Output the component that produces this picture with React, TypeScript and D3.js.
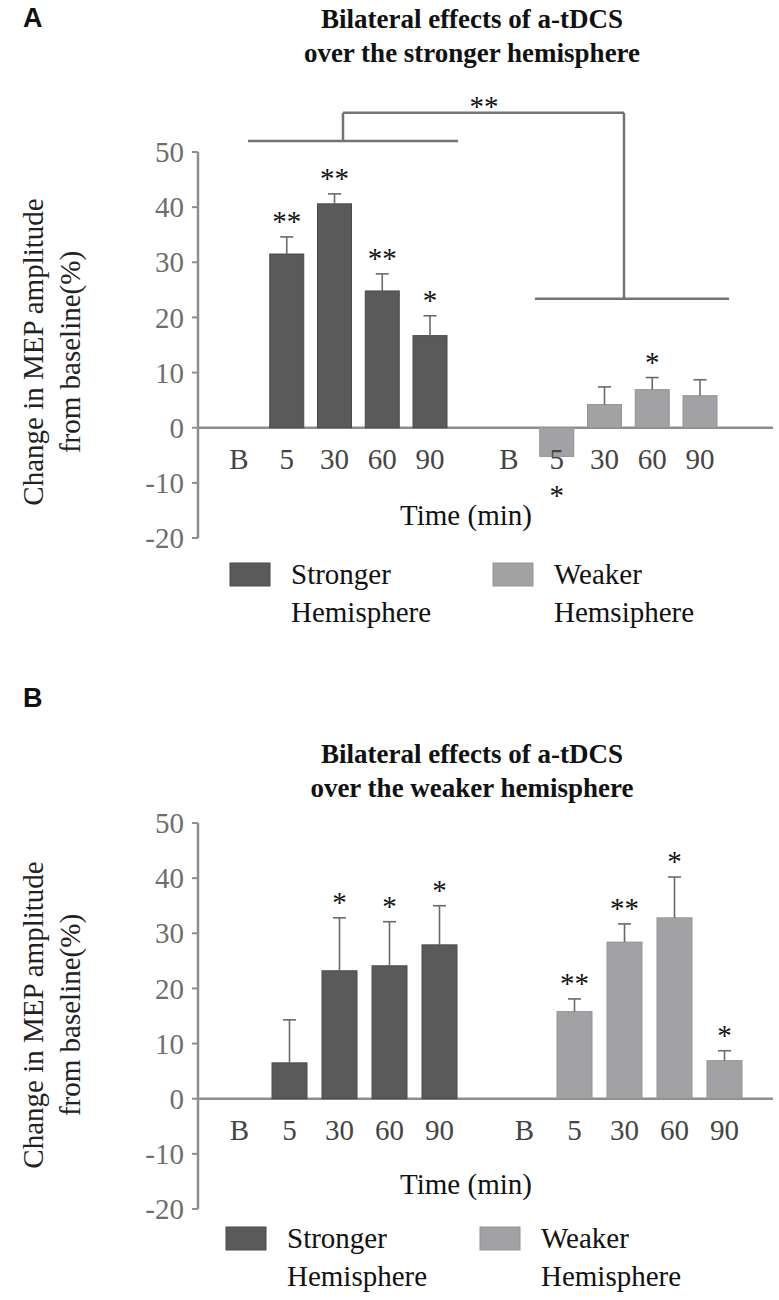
import React from "react";
import * as d3 from "d3";

const categories = ["B", "5", "30", "60", "90"];
const yTicks = [-20, -10, 0, 10, 20, 30, 40, 50];

const aStrongMean = [0, 31.5, 40.6, 24.8, 16.7];
const aStrongErr = [0, 3.1, 1.8, 3.1, 3.6];
const aStrongSig = ["", "**", "**", "**", "*"];
const aWeakMean = [0, -5.2, 4.2, 6.9, 5.8];
const aWeakErr = [0, 0, 3.2, 2.2, 2.9];
const aWeakSig = ["", "*", "", "*", ""];

const bStrongMean = [0, 6.5, 23.2, 24.1, 27.9];
const bStrongErr = [0, 7.8, 9.6, 8.0, 7.1];
const bStrongSig = ["", "", "*", "*", "*"];
const bWeakMean = [0, 15.8, 28.4, 32.8, 6.9];
const bWeakErr = [0, 2.3, 3.3, 7.4, 1.8];
const bWeakSig = ["", "**", "**", "*", "*"];

const legendLabels = [
  ["Stronger", "Hemisphere"],
  ["Weaker", "Hemsiphere"],
];
const legendLabelsB = [
  ["Stronger", "Hemisphere"],
  ["Weaker", "Hemisphere"],
];

const DARK = "#5a5a5a";
const LIGHT = "#a2a2a5";
const AXIS = "#8e8e8e";
const SERIF = "'Liberation Serif', 'Times New Roman', serif";

type PanelProps = {
  letter: string;
  letterY: number;
  titleLines: string[];
  titleY: number[];
  yRange: [number, number];
  xStrong: [number, number];
  xWeak: [number, number];
  barW: number;
  strongMean: number[];
  strongErr: number[];
  strongSig: string[];
  weakMean: number[];
  weakErr: number[];
  weakSig: string[];
  timeY: number;
  yLabelCenter: number;
  legendTop: number;
  legendX: number[];
  legendText: string[][];
  bracket?: boolean;
};

function Panel(p: PanelProps) {
  const y = d3.scaleLinear().domain([-20, 50]).range(p.yRange);
  const xs = d3.scalePoint<string>().domain(categories).range(p.xStrong);
  const xw = d3.scalePoint<string>().domain(categories).range(p.xWeak);
  const y0 = y(0);
  const axisX = 198;

  const bars = (
    means: number[],
    errs: number[],
    sigs: string[],
    x: d3.ScalePoint<string>,
    fill: string,
    stroke: string,
    key: string
  ) =>
    categories.map((c, i) => {
      const v = means[i];
      const cx = x(c) as number;
      const els: React.ReactNode[] = [];
      if (v !== 0) {
        const top = y(Math.max(0, v));
        const bot = y(Math.min(0, v));
        els.push(
          <rect
            key="r"
            x={cx - p.barW / 2}
            y={top}
            width={p.barW}
            height={bot - top}
            fill={fill}
            stroke={stroke}
            strokeWidth={1}
          />
        );
      }
      const e = errs[i];
      if (e > 0 && v > 0) {
        const et = y(v + e);
        els.push(
          <g key="e" stroke="#6a6a6a" strokeWidth={1.6}>
            <line x1={cx} x2={cx} y1={y(v)} y2={et} />
            <line x1={cx - 6.5} x2={cx + 6.5} y1={et} y2={et} />
          </g>
        );
      }
      if (sigs[i]) {
        const ay = v < 0 ? y(v) + 36 : y(v + e) - 19;
        els.push(
          <text
            key="s"
            x={cx}
            y={ay + 13}
            textAnchor="middle"
            fontFamily={SERIF}
            fontSize={29}
            fill="#111"
          >
            {sigs[i]}
          </text>
        );
      }
      return <g key={key + i}>{els}</g>;
    });

  return (
    <g>
      <text
        x={23}
        y={p.letterY}
        fontFamily="'Liberation Sans', Arial, sans-serif"
        fontWeight="bold"
        fontSize={27}
        fill="#111"
      >
        {p.letter}
      </text>
      {p.titleLines.map((t, i) => (
        <text
          key={i}
          x={472}
          y={p.titleY[i]}
          textAnchor="middle"
          fontFamily={SERIF}
          fontWeight="bold"
          fontSize={27}
          fill="#111"
        >
          {t}
        </text>
      ))}

      {/* y axis label */}
      <g transform={`translate(43, ${p.yLabelCenter}) rotate(-90)`}>
        <text textAnchor="middle" fontFamily={SERIF} fontSize={29} fill="#222">
          Change in MEP amplitude
        </text>
      </g>
      <g transform={`translate(80, ${p.yLabelCenter}) rotate(-90)`}>
        <text textAnchor="middle" fontFamily={SERIF} fontSize={29} fill="#222">
          from baseline(%)
        </text>
      </g>

      {/* y axis */}
      <line x1={axisX} x2={axisX} y1={y(50)} y2={y(-20)} stroke={AXIS} strokeWidth={2.5} />
      {yTicks.map((t) => (
        <g key={t}>
          <line x1={axisX - 6} x2={axisX} y1={y(t)} y2={y(t)} stroke={AXIS} strokeWidth={2} />
          <text
            x={184}
            y={y(t)}
            dy="0.35em"
            textAnchor="end"
            fontFamily={SERIF}
            fontSize={29}
            fill="#6e6e6e"
          >
            {t}
          </text>
        </g>
      ))}

      {/* x axis (zero line) */}
      <line x1={axisX} x2={773} y1={y0} y2={y0} stroke={AXIS} strokeWidth={2.5} />

      {bars(p.strongMean, p.strongErr, p.strongSig, xs, DARK, "#4a4a4a", "s")}
      {bars(p.weakMean, p.weakErr, p.weakSig, xw, LIGHT, "#939396", "w")}

      {categories.map((c) => (
        <g key={"xl" + c}>
          <text
            x={xs(c)}
            y={y0 + 41}
            textAnchor="middle"
            fontFamily={SERIF}
            fontSize={29}
            fill="#444"
          >
            {c}
          </text>
          <text
            x={xw(c)}
            y={y0 + 41}
            textAnchor="middle"
            fontFamily={SERIF}
            fontSize={29}
            fill="#444"
          >
            {c}
          </text>
        </g>
      ))}

      <text x={466} y={p.timeY} textAnchor="middle" fontFamily={SERIF} fontSize={29} fill="#111">
        Time (min)
      </text>

      {/* legend */}
      {[DARK, LIGHT].map((col, i) => (
        <g key={"lg" + i}>
          <rect
            x={p.legendX[i]}
            y={p.legendTop}
            width={40}
            height={23}
            fill={col}
            stroke={i === 0 ? "#4a4a4a" : "#939396"}
          />
          <text
            x={p.legendX[i] + 61}
            y={p.legendTop + 21}
            fontFamily={SERIF}
            fontSize={29}
            fill="#111"
          >
            {p.legendText[i][0]}
          </text>
          <text
            x={p.legendX[i] + 61}
            y={p.legendTop + 59}
            fontFamily={SERIF}
            fontSize={29}
            fill="#111"
          >
            {p.legendText[i][1]}
          </text>
        </g>
      ))}

      {p.bracket && (
        <g stroke="#737373" strokeWidth={2.5} fill="none">
          <line x1={248} x2={458} y1={y(52)} y2={y(52)} />
          <line x1={343} x2={343} y1={y(52)} y2={y(57.1)} />
          <line x1={343} x2={624} y1={y(57.1)} y2={y(57.1)} />
          <line x1={624} x2={624} y1={y(57.1)} y2={y(23.4)} />
          <line x1={535} x2={729} y1={y(23.4)} y2={y(23.4)} />
        </g>
      )}
      {p.bracket && (
        <text
          x={484}
          y={y(58.9) + 13}
          textAnchor="middle"
          fontFamily={SERIF}
          fontSize={29}
          fill="#111"
        >
          **
        </text>
      )}
    </g>
  );
}

export default function App() {
  return (
    <svg
      width={779}
      height={1300}
      style={{ position: "absolute", left: 0, top: 0, background: "#fff" }}
    >
      <rect width={779} height={1300} fill="#fff" />
      <Panel
        letter="A"
        letterY={27}
        titleLines={["Bilateral effects of a-tDCS", "over the stronger hemisphere"]}
        titleY={[28, 62]}
        yRange={[538, 152]}
        xStrong={[239, 430]}
        xWeak={[509, 700]}
        barW={34}
        strongMean={aStrongMean}
        strongErr={aStrongErr}
        strongSig={aStrongSig}
        weakMean={aWeakMean}
        weakErr={aWeakErr}
        weakSig={aWeakSig}
        timeY={525}
        yLabelCenter={352}
        legendTop={563}
        legendX={[230, 493]}
        legendText={legendLabels}
        bracket
      />
      <Panel
        letter="B"
        letterY={707}
        titleLines={["Bilateral effects of a-tDCS", "over the weaker hemisphere"]}
        titleY={[763, 797]}
        yRange={[1209, 823]}
        xStrong={[239.5, 439.5]}
        xWeak={[524.5, 724.5]}
        barW={35}
        strongMean={bStrongMean}
        strongErr={bStrongErr}
        strongSig={bStrongSig}
        weakMean={bWeakMean}
        weakErr={bWeakErr}
        weakSig={bWeakSig}
        timeY={1194}
        yLabelCenter={1015}
        legendTop={1227}
        legendX={[226, 480]}
        legendText={legendLabelsB}
      />
    </svg>
  );
}
